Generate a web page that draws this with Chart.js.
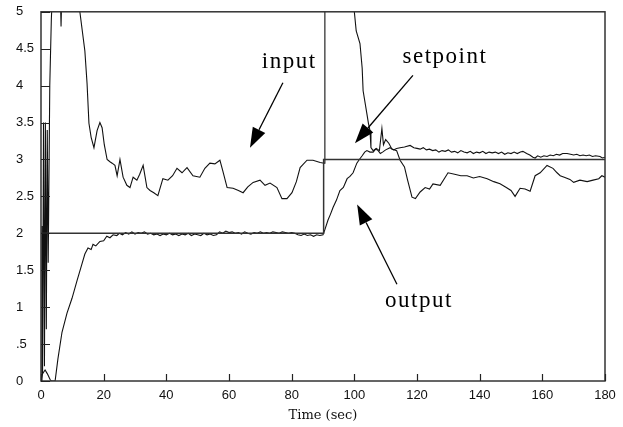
<!DOCTYPE html>
<html>
<head>
<meta charset="utf-8">
<script src="https://cdn.jsdelivr.net/npm/chart.js@4.4.1/dist/chart.umd.min.js"></script>
<style>
  html, body { margin: 0; padding: 0; background: #fff; }
  #wrap { width: 623px; height: 427px; }
</style>
</head>
<body>
<div id="wrap"><canvas id="c" width="623" height="427"></canvas></div>
<script>
// ---- data ----
const xTickValues = [0, 20, 40, 60, 80, 100, 120, 140, 160, 180];
const yTickLabels = ['0', '.5', '1', '1.5', '2', '2.5', '3', '3.5', '4', '4.5', '5'];

const setpointT = [0, 90.2, 90.2, 180];
const setpointV = [2, 2, 3, 3];

const inputT = [0, 0.3, 0.5, 0.8, 1.1, 1.4, 1.7, 2.0, 2.3, 2.8, 3.3, 4.0, 6.0, 6.4, 6.8, 12.0, 12.4, 14.0, 14.7, 15.3,
  16.0, 16.9, 17.9, 18.8, 19.5, 20.2, 21.1, 22.0, 22.7, 23.6, 24.3, 25.2, 26.2, 27.4, 28.4, 29.4, 30.6, 31.5, 32.6, 33.8,
  34.8, 36.0, 37.3, 38.9, 40.5, 42.0, 43.4, 45.0, 46.6, 48.5, 50.7, 52.3, 53.9, 55.5, 57.1, 58.0, 59.4, 61.3, 63.0, 64.5,
  66.0, 67.7, 69.9, 71.5, 73.1, 75.3, 76.9, 78.5, 80.1, 81.5, 82.7, 84.9, 86.8, 89.1, 90.4, 90.6, 99.8, 100.0, 100.6, 101.8,
  102.5, 102.8, 104.0, 104.5, 105.0, 105.3, 106.0, 107.0, 108.0, 108.8, 109.3, 110.0, 111.0, 112.0, 113.5, 114.6, 116.0, 117.0, 118.4, 119.5,
  121.0, 122.6, 124.0, 125.1, 127.4, 129.9, 132.0, 134.0, 136.0, 138.0, 140.0, 142.4, 144.5, 146.5, 148.5, 150.0, 151.3, 152.9, 154.5, 156.1,
  157.7, 159.3, 161.5, 163.4, 164.7, 165.7, 167.0, 168.8, 170.0, 172.0, 174.3, 176.2, 178.0, 179.0, 180];
const inputV = [0, 2.1, 0.1, 3.5, 0.2, 3.5, 0.7, 3.4, 1.6, 4.0, 4.9, 5.6, 5.6, 4.8, 5.6, 5.6, 5.0, 4.47, 4.03, 3.49,
  3.30, 3.16, 3.39, 3.50, 3.43, 3.2, 3.0, 2.97, 2.95, 2.92, 2.78, 3.0, 2.76, 2.65, 2.62, 2.76, 2.72, 2.8, 2.92, 2.62,
  2.58, 2.55, 2.51, 2.74, 2.72, 2.78, 2.88, 2.82, 2.89, 2.78, 2.76, 2.88, 2.95, 2.94, 2.99, 2.85, 2.62, 2.61, 2.58, 2.55,
  2.63, 2.69, 2.72, 2.65, 2.68, 2.62, 2.47, 2.47, 2.55, 2.7, 2.89, 2.99, 2.99, 2.96, 2.95, 5.6, 5.6, 5.0, 4.74, 4.57,
  4.24, 3.93, 3.62, 3.49, 3.39, 3.16, 3.12, 3.15, 3.12, 3.42, 3.2, 3.27, 3.22, 3.14, 3.12, 2.99, 2.9, 2.72, 2.49, 2.47,
  2.56, 2.62, 2.6, 2.67, 2.65, 2.82, 2.8, 2.78, 2.78, 2.75, 2.77, 2.74, 2.7, 2.67, 2.62, 2.58, 2.5, 2.61, 2.6, 2.57,
  2.78, 2.82, 2.92, 2.88, 2.82, 2.78, 2.76, 2.73, 2.69, 2.72, 2.7, 2.72, 2.74, 2.78, 2.76];

const outputT = [0, 0.5, 1.3, 2.0, 2.9, 3.3, 4.5, 5.4, 6.7, 8.3, 9.9, 11.5, 13.1, 14.0, 15.0, 16.0, 16.6, 17.5, 18.8, 20.0,
  21.0, 22.0, 23.0, 24.2, 25, 26, 27, 28, 29, 30, 31, 32, 33, 34, 35, 36, 37, 38, 39, 40,
  41, 42, 43, 44, 45, 46, 47, 48, 49, 50, 51, 52, 53, 54, 55, 56, 57, 58, 59, 60,
  61, 62, 63, 64, 65, 66, 67, 68, 69, 70, 71, 72, 73, 74, 75, 76, 77, 78, 79, 80,
  81, 82, 83, 84, 85, 86, 87, 88, 89, 90, 90.6, 91.6, 92.4, 93.2, 94.3, 95.4, 96.5, 97.7, 98.6, 99.6,
  100.8, 101.6, 102.5, 103.3, 104, 105, 106, 106.8, 107.6, 108.3, 109, 110, 111.4, 112.5, 113.5, 114.6, 116, 117.8, 119, 120,
  121, 122, 123, 124, 125, 126, 127, 128, 129, 130, 131, 132, 133, 134, 135, 136, 137, 138, 139, 140,
  141, 142, 143, 144, 145, 146, 147, 148, 149, 150, 151, 152, 153, 153.8, 155, 156, 157, 157.7, 158.5, 159.5,
  160.5, 161.5, 162.5, 163.5, 164.5, 165.5, 166.5, 167.9, 169, 170, 171, 172, 173, 174, 175, 176, 177, 178.4, 179.2, 180];
const outputV = [0, 0.1, 0.15, 0.1, 0.02, 0, 0, 0.3, 0.66, 0.92, 1.12, 1.36, 1.59, 1.72, 1.8, 1.78, 1.85, 1.83, 1.89, 1.9,
  1.96, 1.94, 1.98, 1.97, 2.0, 1.98, 2.01, 1.99, 2.02, 1.99, 2.01, 2.0, 2.02, 1.99, 2.0, 1.98, 1.99, 1.97, 1.99, 1.98,
  2.0, 1.98, 1.99, 1.97, 1.99, 1.98, 2.0, 1.97, 1.99, 1.98, 1.97, 2.0, 1.98, 1.99, 1.97, 1.98, 2.02, 2.0, 2.03, 2.01,
  2.02, 2.0, 2.01, 1.99, 2.02, 2.0, 1.99, 2.01, 2.0, 2.02, 2.0, 2.01, 2.0, 2.02, 2.01, 2.0, 2.02, 2.01, 2.0, 2.01,
  2.0, 1.98, 1.97, 1.99, 1.97, 1.98, 1.96, 1.98, 1.97, 1.98, 2.05, 2.18, 2.26, 2.35, 2.45, 2.58, 2.62, 2.74, 2.77, 2.82,
  2.95, 3.0, 3.05, 3.1, 3.12, 3.1, 3.1, 3.14, 3.12, 3.08, 3.1, 3.13, 3.16, 3.13, 3.15, 3.16, 3.17, 3.19, 3.16, 3.15,
  3.14, 3.16, 3.13, 3.14, 3.12, 3.13, 3.1, 3.12, 3.11, 3.13, 3.1, 3.11, 3.09, 3.12, 3.1, 3.09, 3.11, 3.08, 3.1, 3.09,
  3.11, 3.08, 3.1, 3.09, 3.1, 3.08, 3.1, 3.07, 3.09, 3.08, 3.1, 3.08, 3.1, 3.11, 3.08, 3.06, 3.03, 3.02, 3.05, 3.03,
  3.05, 3.04, 3.06, 3.05, 3.07, 3.06, 3.08, 3.08, 3.07, 3.06, 3.07, 3.05, 3.06, 3.05, 3.06, 3.04, 3.05, 3.04, 3.02, 3.03];

// annotation labels and arrows, in data units
const annLabels = ['input', 'setpoint', 'output'];
const annTextX = [79.2, 128.9, 120.6];
const annTextY = [4.24, 4.30, 1.00];
const arrowFromX = [77.2, 118.7, 113.6];
const arrowFromY = [4.04, 4.14, 1.31];
const arrowToX = [66.7, 100.2, 100.9];
const arrowToY = [3.16, 3.22, 2.39];

const toPts = (ts, vs) => ts.map((t, i) => ({ x: t, y: vs[i] }));

const frameAndNotes = {
  id: 'frameAndNotes',
  afterDatasetsDraw(chart) {
    const { ctx, chartArea: a, scales: { x, y } } = chart;
    ctx.save();
    ctx.strokeStyle = '#333';
    ctx.lineWidth = 1.5;
    ctx.strokeRect(a.left, a.top, a.right - a.left, a.bottom - a.top);
    ctx.lineWidth = 1.2;
    ctx.strokeStyle = '#222';
    ctx.beginPath();
    y.ticks.forEach(t => {
      const py = Math.round(y.getPixelForValue(t.value)) + 0.5;
      ctx.moveTo(a.left, py); ctx.lineTo(a.left + 9, py);
    });
    x.ticks.forEach(t => {
      const px = Math.round(x.getPixelForValue(t.value)) + 0.5;
      ctx.moveTo(px, a.bottom); ctx.lineTo(px, a.bottom - 7);
    });
    ctx.stroke();
    ctx.strokeStyle = '#000';
    ctx.fillStyle = '#000';
    ctx.lineWidth = 1.3;
    for (let i = 0; i < annLabels.length; i++) {
      const x0 = x.getPixelForValue(arrowFromX[i]), y0 = y.getPixelForValue(arrowFromY[i]);
      const x1 = x.getPixelForValue(arrowToX[i]), y1 = y.getPixelForValue(arrowToY[i]);
      const ang = Math.atan2(y1 - y0, x1 - x0);
      const L = 20, W = 7;
      const bx = x1 - L * Math.cos(ang), by = y1 - L * Math.sin(ang);
      ctx.beginPath();
      ctx.moveTo(x0, y0); ctx.lineTo(bx, by);
      ctx.stroke();
      ctx.beginPath();
      ctx.moveTo(x1, y1);
      ctx.lineTo(bx + W * Math.sin(ang), by - W * Math.cos(ang));
      ctx.lineTo(bx - W * Math.sin(ang), by + W * Math.cos(ang));
      ctx.closePath();
      ctx.fill();
    }
    ctx.font = '23px "Liberation Serif", "Times New Roman", serif';
    try { ctx.letterSpacing = '1.5px'; } catch (e) {}
    ctx.textAlign = 'center';
    ctx.textBaseline = 'alphabetic';
    ctx.fillStyle = '#000';
    for (let i = 0; i < annLabels.length; i++) {
      ctx.fillText(annLabels[i], x.getPixelForValue(annTextX[i]), y.getPixelForValue(annTextY[i]));
    }
    ctx.restore();
  }
};

const lineDs = (label, data, color, width) => ({
  label, data, borderColor: color, borderWidth: width,
  pointRadius: 0, tension: 0, fill: false
});

new Chart(document.getElementById('c'), {
  type: 'line',
  data: {
    datasets: [
      lineDs('setpoint', toPts(setpointT, setpointV), '#333', 1.5),
      lineDs('input', toPts(inputT, inputV), '#111', 1.1),
      lineDs('output', toPts(outputT, outputV), '#111', 1.1)
    ]
  },
  options: {
    responsive: false,
    animation: false,
    devicePixelRatio: 1,
    layout: { padding: { left: 16, right: 18, top: 10, bottom: 0 } },
    plugins: { legend: { display: false }, tooltip: { enabled: false } },
    scales: {
      x: {
        type: 'linear', min: 0, max: 180,
        afterBuildTicks: s => { s.ticks = xTickValues.map(v => ({ value: v })); },
        afterFit: s => { s.height = 46; },
        grid: { display: false, drawTicks: false },
        border: { display: false },
        ticks: {
          padding: 7, color: '#111', maxRotation: 0,
          font: { family: '"Liberation Sans", Arial, sans-serif', size: 13 },
          callback: v => String(v)
        },
        title: {
          display: true, text: 'Time (sec)', color: '#111',
          font: { family: '"DejaVu Serif", serif', size: 13 },
          padding: { top: 0, bottom: 4 }
        }
      },
      y: {
        type: 'linear', min: 0, max: 5,
        afterBuildTicks: s => { s.ticks = yTickLabels.map((l, i) => ({ value: i * 0.5 })); },
        afterFit: s => { s.width = 25; },
        grid: { display: false, drawTicks: false },
        border: { display: false },
        ticks: {
          crossAlign: 'far', padding: 4, color: '#111',
          font: { family: '"Liberation Sans", Arial, sans-serif', size: 13 },
          callback: (v, i) => yTickLabels[Math.round(v / 0.5)]
        }
      }
    }
  },
  plugins: [frameAndNotes]
});
</script>
</body>
</html>
